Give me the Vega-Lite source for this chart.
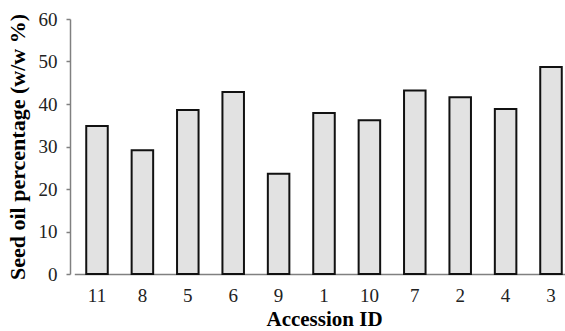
{
  "$schema": "https://vega.github.io/schema/vega-lite/v6.json",
  "autosize": "none",
  "padding": {"left": 70, "top": 19, "right": 0, "bottom": 57},
  "width": 495,
  "height": 255,
  "background": "white",
  "config": {
    "view": {"stroke": null},
    "font": "Times New Roman, Liberation Serif, serif",
    "axis": {"grid": false}
  },
  "data": {
    "values": [
      {"accession": "11", "oil": 34.8},
      {"accession": "8", "oil": 29.1},
      {"accession": "5", "oil": 38.6},
      {"accession": "6", "oil": 42.8},
      {"accession": "9", "oil": 23.6},
      {"accession": "1", "oil": 37.9},
      {"accession": "10", "oil": 36.2},
      {"accession": "7", "oil": 43.2},
      {"accession": "2", "oil": 41.6},
      {"accession": "4", "oil": 38.8},
      {"accession": "3", "oil": 48.7}
    ]
  },
  "mark": {"type": "bar", "fill": "#e2e2e2", "stroke": "#111111", "strokeWidth": 2},
  "encoding": {
    "x": {
      "field": "accession",
      "type": "nominal",
      "sort": null,
      "scale": {"range": [4.3, 503.7], "paddingInner": 0.526, "paddingOuter": 0.263},
      "axis": {
        "title": "Accession ID",
        "titleFont": "Times New Roman, Liberation Serif, serif",
        "titleFontSize": 21,
        "titleFontWeight": "bold",
        "titleColor": "#000000",
        "titlePadding": 3,
        "labelFont": "Times New Roman, Liberation Serif, serif",
        "labelAngle": 0,
        "labelFontSize": 19,
        "labelColor": "#222222",
        "labelPadding": 12,
        "ticks": false,
        "domainColor": "#808080",
        "domainWidth": 1.5
      }
    },
    "y": {
      "field": "oil",
      "type": "quantitative",
      "scale": {"domain": [0, 60], "nice": false},
      "axis": {
        "title": "Seed oil percentage (w/w %)",
        "titleFont": "Times New Roman, Liberation Serif, serif",
        "titleFontSize": 22,
        "titleFontWeight": "bold",
        "titleColor": "#000000",
        "titlePadding": 9,
        "values": [0, 10, 20, 30, 40, 50, 60],
        "labelFont": "Times New Roman, Liberation Serif, serif",
        "labelFontSize": 19,
        "labelColor": "#222222",
        "labelPadding": 9,
        "tickSize": 4,
        "tickColor": "#808080",
        "tickWidth": 1.5,
        "domainColor": "#808080",
        "domainWidth": 1.5
      }
    }
  }
}
